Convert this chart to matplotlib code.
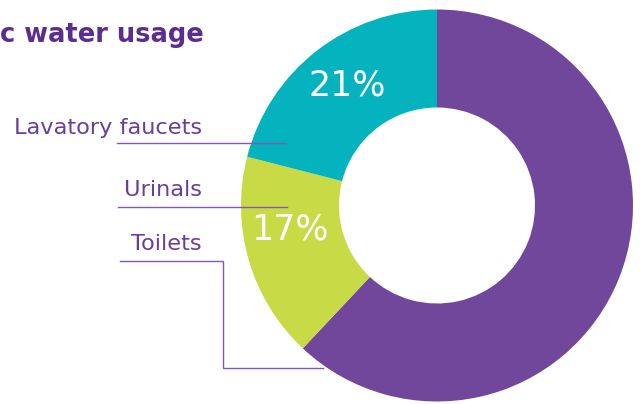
import matplotlib
matplotlib.use("Agg")
import matplotlib.pyplot as plt

# Share of water use by fixture (percent)
categories = ["Toilets", "Urinals", "Lavatory faucets"]
shares = [62, 17, 21]
colors = ["#71479b", "#c8da46", "#04b3bd"]
shown_labels = {"Urinals": "17%", "Lavatory faucets": "21%"}

W, H = 640, 404
fig = plt.figure(figsize=(W / 100, H / 100), dpi=100)
ax = fig.add_axes([0, 0, 1, 1])

def y(top):
    """Convert a top-down pixel row to the y-up axis."""
    return H - top

cx, cy, R = 437, y(205.5), 196
wedges, _ = ax.pie(shares, colors=colors, startangle=90, counterclock=False,
                   center=(cx, cy), radius=R, frame=True,
                   wedgeprops=dict(width=R * 0.5, linewidth=0))
ax.set_xlim(0, W)
ax.set_ylim(0, H)
ax.set_aspect("equal")
ax.axis("off")

# Percentage labels inside the ring
label_pos = {"Lavatory faucets": (347, 85), "Urinals": (290, 230)}
for cat in categories:
    if cat in shown_labels:
        px, py = label_pos[cat]
        ax.text(px, y(py), shown_labels[cat], color="white", fontsize=25,
                ha="center", va="center", family="DejaVu Sans")

# Title
ax.text(0, y(41.7), "c water usage", color="#5c2d91", fontsize=18.5,
        fontweight="bold", ha="left", va="baseline", family="DejaVu Sans")

text_color = "#6a3d9a"
line_color = "#8259b5"
lw = 1.0
fs = 16.2

# Category names with leader lines
ax.text(202, y(134), "Lavatory faucets", color=text_color, fontsize=fs,
        ha="right", va="baseline")
ax.plot([117, 286], [y(142.7), y(142.7)], color=line_color, lw=lw)

ax.text(202, y(195.5), "Urinals", color=text_color, fontsize=fs,
        ha="right", va="baseline")
ax.plot([118, 287], [y(206.7), y(206.7)], color=line_color, lw=lw)

ax.text(202, y(250), "Toilets", color=text_color, fontsize=fs,
        ha="right", va="baseline")
ax.plot([120, 222.7, 222.7, 323], [y(260.7), y(260.7), y(367.7), y(367.7)],
        color=line_color, lw=lw, solid_joinstyle="miter")

fig.savefig("out.png", dpi=100)
